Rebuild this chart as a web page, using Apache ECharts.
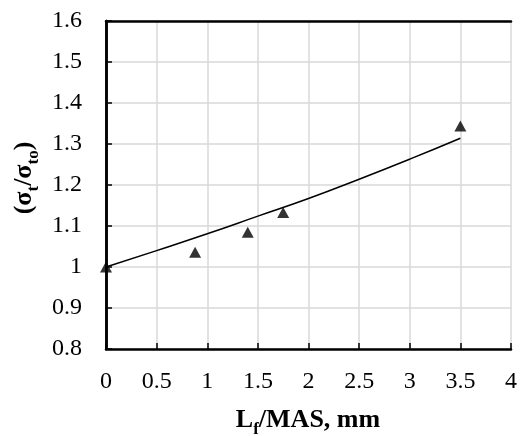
<!DOCTYPE html>
<html><head><meta charset="utf-8">
<script src="https://cdn.jsdelivr.net/npm/echarts@6/dist/echarts.min.js"></script>
<style>html,body{margin:0;padding:0;background:#fff}#c{width:520px;height:436px}</style>
</head><body><div id="c"></div>
<script>
// measured points
const measX = [0, 0.88, 1.4, 1.75, 3.5];
const measY = [1.0, 1.036, 1.085, 1.133, 1.344];
// fitted curve
const fitX = [0, 0.5, 1, 1.5, 2, 2.5, 3, 3.5];
const fitY = [1.0, 1.040, 1.081, 1.124, 1.167, 1.214, 1.263, 1.314];
const xTicks = ['0','0.5','1','1.5','2','2.5','3','3.5','4'];
const yTicks = ['0.8','0.9','1','1.1','1.2','1.3','1.4','1.5','1.6'];

const font = 'Liberation Serif';
const chart = echarts.init(document.getElementById('c'));
const axisBase = {
  axisLine: {show: true, onZero: false, lineStyle: {color: '#000', width: 2.5}},
  splitLine: {show: true, lineStyle: {color: '#d9d9d9', width: 1.5}},
};
const richT = {
  b: {fontFamily: font, fontWeight: 'bold', fontSize: 26, fill: '#000', verticalAlign: 'bottom'},
  s: {fontFamily: font, fontWeight: 'bold', fontSize: 17, fill: '#000', verticalAlign: 'bottom', padding: [0,0,-5,0]}
};
chart.setOption({
  animation: false,
  backgroundColor: '#fff',
  grid: {left: 106, top: 21, right: 9, bottom: 87, containLabel: false},
  xAxis: [{
    type: 'value', min: 0, max: 4, interval: 0.5, position: 'bottom',
    ...axisBase,
    axisTick: {show: true, inside: true, length: 6, lineStyle: {color: '#000', width: 1.5}},
    axisLabel: {color: '#000', fontFamily: font, fontSize: 24, margin: 21,
      formatter: v => xTicks[Math.round(v / 0.5)]}
  }, {
    type: 'value', min: 0, max: 4, interval: 0.5, position: 'top',
    axisLine: {show: true, lineStyle: {color: '#000', width: 2.5}},
    axisTick: {show: false}, axisLabel: {show: false}, splitLine: {show: false}
  }],
  yAxis: [{
    type: 'value', min: 0.8, max: 1.6, interval: 0.1, position: 'left',
    ...axisBase,
    axisTick: {show: true, inside: true, length: 6, lineStyle: {color: '#000', width: 1.5}},
    axisLabel: {color: '#000', fontFamily: font, fontSize: 24, margin: 24,
      formatter: v => yTicks[Math.round((v - 0.8) / 0.1)]}
  }, {
    type: 'value', min: 0.8, max: 1.6, interval: 0.1, position: 'right',
    axisLine: {show: true, lineStyle: {color: '#000', width: 2.5}},
    axisTick: {show: false}, axisLabel: {show: false}, splitLine: {show: false}
  }],
  series: [{
    type: 'line', smooth: true, showSymbol: false, symbol: 'none',
    data: fitX.map((x, i) => [x, fitY[i]]),
    lineStyle: {color: '#000', width: 1.5}, z: 3
  }, {
    type: 'scatter', symbol: 'triangle', symbolSize: [12, 11],
    data: measX.map((x, i) => [x, measY[i]]),
    itemStyle: {color: '#000'}, z: 4
  }],
  graphic: [{
    type: 'text', x: 308, y: 420,
    style: {
      text: '{b|L}{s|f}{b|/MAS, mm}', align: 'center', verticalAlign: 'middle',
      rich: richT
    }
  }, {
    type: 'text', rotation: Math.PI / 2, x: 24, y: 178,
    style: {
      text: '{b|(σ}{s|t}{b|/σ}{s|to}{b|)}', align: 'center', verticalAlign: 'middle',
      rich: richT
    }
  }]
});
</script></body></html>
